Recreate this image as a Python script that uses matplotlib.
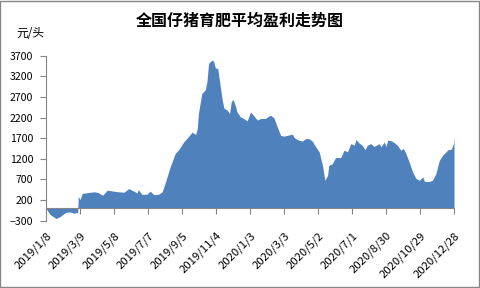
import numpy as np
import pandas as pd
import matplotlib
matplotlib.use('Agg')
import matplotlib.pyplot as plt

plt.rcParams['font.family'] = ['Noto Sans CJK SC', 'DejaVu Sans']

# days after 2019/1/8 and profit (yuan per head)
day_offsets = [0, 7, 18, 25, 35, 42, 50, 56, 57, 60, 64, 74, 85, 92, 100, 108,
               117, 127, 138, 146, 157, 161, 163, 169, 178, 184, 190, 199, 205,
               211, 219, 228, 234, 243, 252, 258, 264, 267, 269, 275, 281, 284,
               287, 293, 296, 299, 303, 306, 311, 314, 320, 324, 327, 330, 334,
               337, 343, 349, 355, 361, 367, 373, 379, 387, 396, 402, 408, 414,
               420, 426, 435, 437, 443, 452, 458, 464, 470, 476, 482, 488, 492,
               497, 499, 505, 511, 520, 526, 532, 538, 544, 547, 552, 558, 563,
               567, 573, 579, 588, 591, 597, 600, 603, 609, 614, 620, 626, 631,
               635, 641, 647, 653, 659, 665, 668, 676, 682, 688, 694, 700, 706,
               709, 715, 719, 720]
profit = [0, -150, -250, -200, -100, -90, -120, -100, 290, 210, 360, 380, 400,
          380, 315, 440, 420, 400, 390, 480, 400, 370, 455, 340, 340, 415, 330,
          340, 400, 640, 1000, 1330, 1420, 1610, 1750, 1850, 1790, 1940, 2300,
          2790, 2870, 3070, 3520, 3600, 3560, 3400, 3400, 3110, 2630, 2430,
          2380, 2300, 2590, 2640, 2500, 2340, 2220, 2180, 2120, 2340, 2240,
          2140, 2180, 2180, 2260, 2200, 1980, 1770, 1750, 1770, 1800, 1730,
          1670, 1630, 1690, 1690, 1630, 1490, 1370, 1040, 680, 800, 1040, 1080,
          1230, 1230, 1410, 1370, 1570, 1530, 1670, 1590, 1530, 1420, 1530,
          1570, 1500, 1570, 1490, 1610, 1500, 1650, 1640, 1600, 1530, 1410,
          1450, 1330, 1120, 880, 720, 680, 760, 650, 650, 680, 840, 1160, 1290,
          1370, 1420, 1430, 1570, 1730]

start = pd.Timestamp('2019-01-08')
dates = start + pd.to_timedelta(day_offsets, unit='D')
tick_dates = pd.date_range(start, periods=13, freq='60D')
tick_labels = [f'{d.year}/{d.month}/{d.day}' for d in tick_dates]
y_ticks = np.arange(-300, 3701, 500)

fig = plt.figure(figsize=(4.8, 2.88), dpi=100)
ax = fig.add_axes([0.0958, 0.234, 0.85, 0.572])

ax.fill_between(dates, profit, 0, color='#4F81BD', linewidth=0)
ax.set_xlim(tick_dates[0], tick_dates[-1])
ax.set_ylim(-300, 3700)
ax.set_yticks(y_ticks)
ax.tick_params(axis='y', labelsize=7.6, length=4, color='#868686', pad=5)

for s in ['top', 'right']:
    ax.spines[s].set_visible(False)
ax.spines['left'].set_color('#868686')
ax.spines['bottom'].set_position(('data', 0))
ax.spines['bottom'].set_color('#868686')
ax.set_xticks(tick_dates)
ax.tick_params(axis='x', labelbottom=False, length=4, color='#868686',
               direction='out')

# date labels sit under the plot area, not under the zero line
sec = ax.secondary_xaxis('bottom')
sec.set_xticks(tick_dates)
sec.set_xticklabels(tick_labels, rotation=45, ha='right',
                    rotation_mode='anchor', fontsize=8.2)
sec.tick_params(length=0, pad=7)
sec.spines['bottom'].set_visible(False)

fig.text(0.5, 0.928, '全国仔猪育肥平均盈利走势图', ha='center', va='center',
         fontsize=11.5, fontweight='bold')
fig.text(0.035, 0.882, '元/头', ha='left', va='center', fontsize=8.5)

fig.patches.append(plt.Rectangle((0.001, 0.002), 0.997, 0.995,
                                 transform=fig.transFigure, fill=False,
                                 edgecolor='#868686', linewidth=1))

fig.savefig('out.png', dpi=100)
